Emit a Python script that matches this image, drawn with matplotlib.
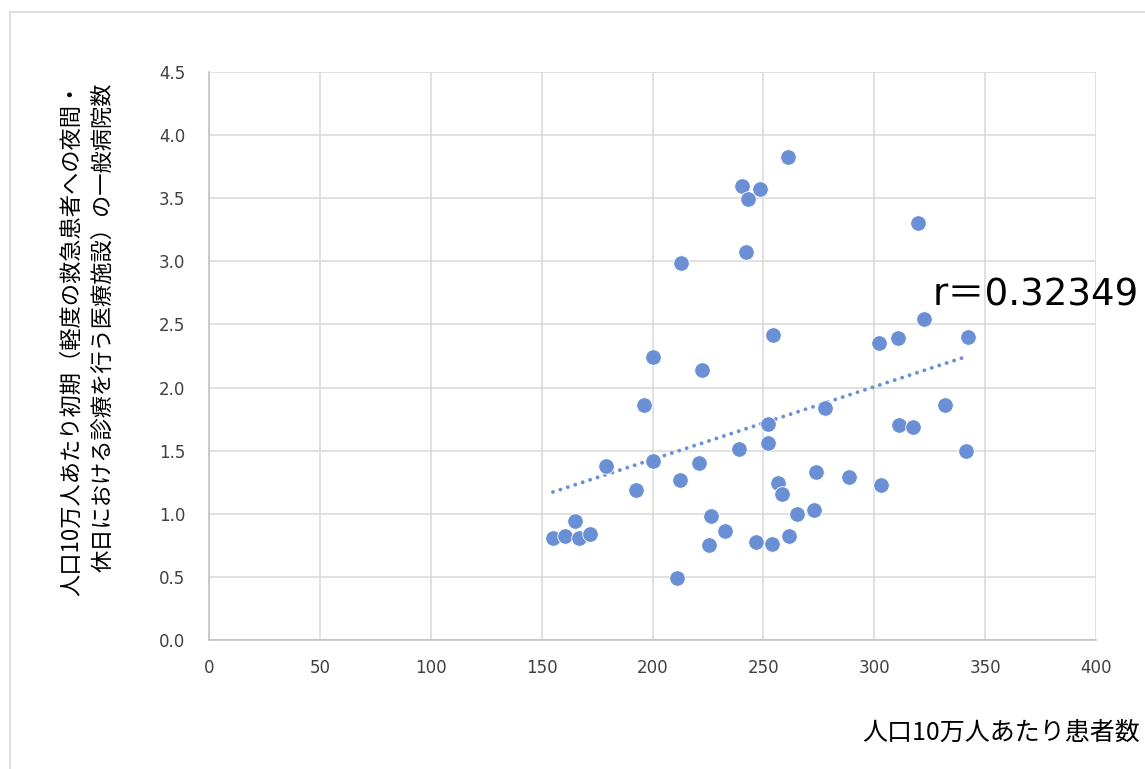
import numpy as np
import matplotlib
matplotlib.use("Agg")
import matplotlib.pyplot as plt
from matplotlib.patches import Rectangle

# Data: patients per 100k population (x) vs. initial emergency general hospitals per 100k (y)
patients = [155.1, 160.5, 165.0, 166.9, 171.8, 179.0, 192.6, 196.2, 200.2, 200.2,
            212.9, 212.4, 211.0, 222.3, 221.0, 226.4, 225.5, 232.7, 240.4, 243.1,
            248.5, 242.2, 239.0, 246.7, 261.1, 254.3, 252.1, 252.1, 253.9, 256.8,
            258.4, 261.6, 265.2, 273.7, 272.8, 277.8, 288.6, 302.1, 303.0, 310.7,
            311.2, 317.5, 319.7, 322.4, 331.9, 342.3, 341.4]
hospitals = [0.81, 0.82, 0.94, 0.81, 0.84, 1.38, 1.19, 1.86, 2.24, 1.42,
             2.99, 1.27, 0.49, 2.14, 1.40, 0.98, 0.75, 0.86, 3.60, 3.49,
             3.57, 3.07, 1.51, 0.78, 3.83, 2.42, 1.71, 1.56, 0.76, 1.24,
             1.16, 0.82, 1.00, 1.33, 1.03, 1.84, 1.29, 2.35, 1.23, 2.39,
             1.70, 1.69, 3.30, 2.54, 1.86, 2.40, 1.50]
x_ticks = [0, 50, 100, 150, 200, 250, 300, 350, 400]
y_ticks = [0.0, 0.5, 1.0, 1.5, 2.0, 2.5, 3.0, 3.5, 4.0, 4.5]
r_label = "r＝0.32349"
x_title = "人口10万人あたり患者数"
y_title = "人口10万人あたり初期（軽度の救急患者への夜間・\n休日における診療を行う医療施設）の一般病院数"

W, H = 1145, 769
fig = plt.figure(figsize=(W / 100, H / 100), dpi=100)
fig.patch.set_facecolor("white")

# chart-area border
fig.patches.append(Rectangle((10 / W, -0.05), 1.1, 1 - 12 / H + 0.05,
                             transform=fig.transFigure, fill=False,
                             edgecolor="#d9d9d9", linewidth=1.2))

ax = fig.add_axes([209 / W, 1 - 640 / H, (1096 - 209) / W, (640 - 72) / H])
ax.set_xlim(0, 400)
ax.set_ylim(0, 4.5)
ax.set_xticks(x_ticks)
ax.set_yticks(y_ticks)
ax.set_xticklabels([str(t) for t in x_ticks])
ax.set_yticklabels([f"{t:.1f}" for t in y_ticks])
ax.grid(True, color="#d9d9d9", linewidth=1.1)
ax.set_axisbelow(True)
for s in ["top", "right"]:
    ax.spines[s].set_visible(False)
for s in ["left", "bottom"]:
    ax.spines[s].set_color("#bfbfbf")
    ax.spines[s].set_linewidth(1.1)
ax.tick_params(length=0, labelsize=12, labelcolor="#404040")
for lab in ax.get_xticklabels() + ax.get_yticklabels():
    lab.set_family("DejaVu Sans")
ax.tick_params(axis="x", pad=14)
ax.tick_params(axis="y", pad=17)

xs = np.array(patients)
ys = np.array(hospitals)
ax.scatter(xs, ys, s=125, color="#6a8fd4", edgecolors="white", linewidths=0.6, zorder=3)

# linear trendline
m, b = np.polyfit(xs, ys, 1)
tx = np.array([xs.min(), xs.max()])
ax.plot(tx, m * tx + b, color="#6a8fd4", linewidth=2.8,
        linestyle=(0, (0.01, 2.0)), dash_capstyle="round", zorder=2)

fig.text(933 / W, 1 - 295 / H, r_label, fontsize=26.7, va="center", ha="left",
         family=["DejaVu Sans", "Noto Sans CJK JP"], color="black")

fig.text(1140 / W, 1 - 733 / H, x_title, fontsize=18, va="center", ha="right",
         family=["Noto Sans CJK JP", "DejaVu Sans"], color="black")

fig.text(87 / W, 1 - 82 / H, y_title, fontsize=16, rotation=90, va="top", ha="center",
         multialignment="right", linespacing=1.45,
         family=["Noto Sans CJK JP", "DejaVu Sans"], color="black")

fig.savefig("out.png", dpi=100, facecolor="white")
